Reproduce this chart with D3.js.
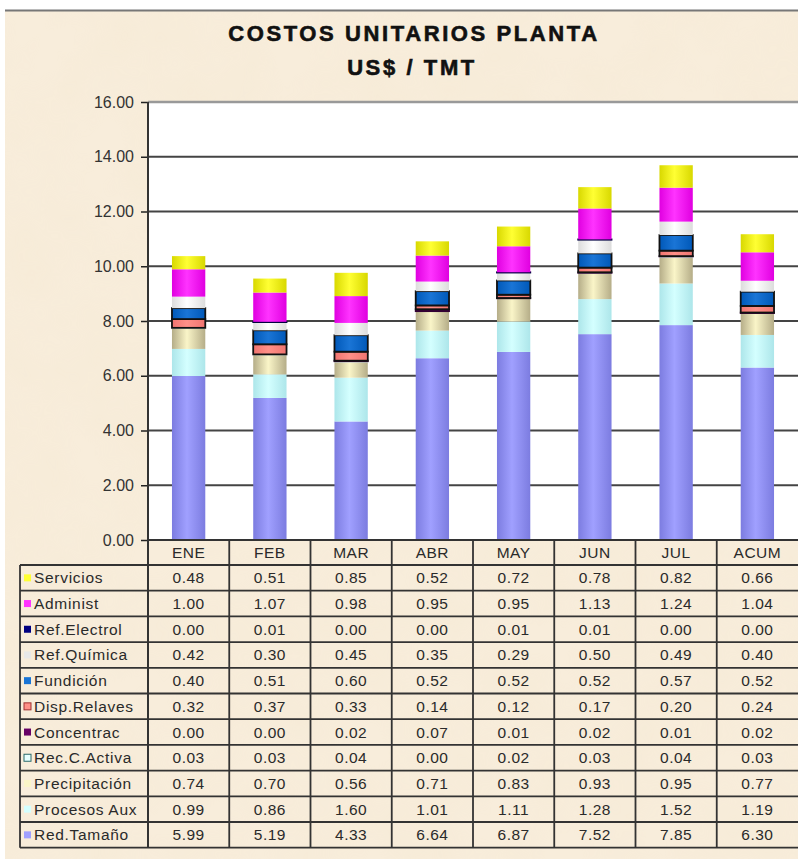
<!DOCTYPE html>
<html>
<head>
<meta charset="utf-8">
<script src="https://cdn.jsdelivr.net/npm/d3@7"></script>
<style>
  body { margin: 0; background: white; }
  svg text { font-family: Arial, "Liberation Sans", sans-serif; }
</style>
</head>
<body>
<svg id="chart" width="798" height="859"></svg>
<script>
// categorias y series (orden de la tabla, de arriba hacia abajo)
const categories = ["ENE", "FEB", "MAR", "ABR", "MAY", "JUN", "JUL", "ACUM"];
const seriesNames = ["Servicios", "Administ", "Ref.Electrol", "Ref.Química", "Fundición", "Disp.Relaves",
                     "Concentrac", "Rec.C.Activa", "Precipitación", "Procesos Aux", "Red.Tamaño"];
const servicios     = [0.48, 0.51, 0.85, 0.52, 0.72, 0.78, 0.82, 0.66];
const administ      = [1.00, 1.07, 0.98, 0.95, 0.95, 1.13, 1.24, 1.04];
const refElectrol   = [0.00, 0.01, 0.00, 0.00, 0.01, 0.01, 0.00, 0.00];
const refQuimica    = [0.42, 0.30, 0.45, 0.35, 0.29, 0.50, 0.49, 0.40];
const fundicion     = [0.40, 0.51, 0.60, 0.52, 0.52, 0.52, 0.57, 0.52];
const dispRelaves   = [0.32, 0.37, 0.33, 0.14, 0.12, 0.17, 0.20, 0.24];
const concentrac    = [0.00, 0.00, 0.02, 0.07, 0.01, 0.02, 0.01, 0.02];
const recCActiva    = [0.03, 0.03, 0.04, 0.00, 0.02, 0.03, 0.04, 0.03];
const precipitacion = [0.74, 0.70, 0.56, 0.71, 0.83, 0.93, 0.95, 0.77];
const procesosAux   = [0.99, 0.86, 1.60, 1.01, 1.11, 1.28, 1.52, 1.19];
const redTamano     = [5.99, 5.19, 4.33, 6.64, 6.87, 7.52, 7.85, 6.30];
const yTicks = [0, 2, 4, 6, 8, 10, 12, 14, 16];

const seriesValues = [servicios, administ, refElectrol, refQuimica, fundicion, dispRelaves,
                      concentrac, recCActiva, precipitacion, procesosAux, redTamano];

// estilos: centro, borde, trazo
const styles = {
    "Servicios":     {c: "#ffff33", e: "#d8d800", s: null},
    "Administ":      {c: "#ff33ff", e: "#e000e0", s: null},
    "Ref.Electrol":  {c: "#000080", e: "#000060", s: "#000040"},
    "Ref.Química":   {c: "#ffffff", e: "#dcdcdc", s: null},
    "Fundición":     {c: "#1a75d6", e: "#0058b8", s: "#111"},
    "Disp.Relaves":  {c: "#ff9088", e: "#f07470", s: "#111"},
    "Concentrac":    {c: "#660066", e: "#440044", s: "#330033"},
    "Rec.C.Activa":  {c: "#e6ffff", e: "#b0dede", s: null},
    "Precipitación": {c: "#faf5c8", e: "#b5ad88", s: null},
    "Procesos Aux":  {c: "#d4ffff", e: "#ade6ea", s: null},
    "Red.Tamaño":    {c: "#a0a0ff", e: "#7c7ce0", s: null}
};

const rows = categories.map((cat, i) => {
    const r = {cat: cat};
    seriesNames.forEach((n, k) => r[n] = seriesValues[k][i]);
    return r;
});

const svg = d3.select("svg#chart");
const W = 798, H = 859;
const plotL = 148, plotR = 798, plotT = 102, plotB = 540;
const tableLeft = 20, rowH = 25.7, headH = 25;

// fondo pergamino
const defs = svg.append("defs");
const filt = defs.append("filter").attr("id", "paper").attr("x", 0).attr("y", 0).attr("width", 1).attr("height", 1);
filt.append("feTurbulence").attr("type", "fractalNoise").attr("baseFrequency", 0.015).attr("numOctaves", 3).attr("seed", 4);
filt.append("feColorMatrix").attr("values", "0 0 0 0 0.85  0 0 0 0 0.75  0 0 0 0 0.55  0 0 0 0.5 -0.15");

svg.append("rect").attr("x", 5).attr("y", 11).attr("width", W - 5).attr("height", H - 11).attr("fill", "#f8eddb");
svg.append("rect").attr("x", 5).attr("y", 11).attr("width", W - 5).attr("height", H - 11)
    .attr("filter", "url(#paper)").attr("opacity", 0.5);
svg.append("line").attr("x1", 5).attr("x2", W).attr("y1", 10.5).attr("y2", 10.5)
    .attr("stroke", "#777").attr("stroke-width", 2);

// titulo
svg.append("text").text("COSTOS UNITARIOS PLANTA")
    .attr("x", 414).attr("y", 41).attr("text-anchor", "middle")
    .attr("font-size", 22).attr("font-weight", "bold").attr("letter-spacing", 2.6)
    .attr("fill", "#111").attr("stroke", "#111").attr("stroke-width", 0.6);
svg.append("text").text("US$ / TMT")
    .attr("x", 412).attr("y", 75).attr("text-anchor", "middle")
    .attr("font-size", 22).attr("font-weight", "bold").attr("letter-spacing", 2.6)
    .attr("fill", "#111").attr("stroke", "#111").attr("stroke-width", 0.6);

// escalas
const x = d3.scaleBand().domain(categories).range([plotL, plotR]).padding(0);
const y = d3.scaleLinear().domain([0, 16]).range([plotB, plotT]);
const barW = x.bandwidth() * 0.41;

// area de trazado
svg.append("rect").attr("x", plotL).attr("y", plotT).attr("width", plotR - plotL).attr("height", plotB - plotT).attr("fill", "white");

// lineas de cuadricula
svg.append("g").selectAll("line").data(yTicks.filter(t => t > 0)).join("line")
    .attr("x1", plotL).attr("x2", plotR)
    .attr("y1", d => y(d)).attr("y2", d => y(d))
    .attr("stroke", d => d === 16 ? "#999" : "#444")
    .attr("stroke-width", d => d === 16 ? 2.5 : 1.8);

// degradados (efecto cilindro)
seriesNames.forEach((n, k) => {
    const g = defs.append("linearGradient").attr("id", "grad" + k).attr("x1", "0%").attr("x2", "100%");
    g.append("stop").attr("offset", "0%").attr("stop-color", styles[n].e);
    g.append("stop").attr("offset", "45%").attr("stop-color", styles[n].c);
    g.append("stop").attr("offset", "100%").attr("stop-color", styles[n].e);
});

// barras apiladas
const stackKeys = seriesNames.slice().reverse();
const stacked = d3.stack().keys(stackKeys)(rows);
svg.append("g").selectAll("g").data(stacked).join("g")
    .attr("fill", d => "url(#grad" + seriesNames.indexOf(d.key) + ")")
    .each(function(layer) {
        const st = styles[layer.key];
        d3.select(this).selectAll("rect").data(layer.filter(d => d[1] - d[0] > 0)).join("rect")
            .attr("x", d => x(d.data.cat) + (x.bandwidth() - barW) / 2)
            .attr("width", barW)
            .attr("y", d => y(d[1]))
            .attr("height", d => y(d[0]) - y(d[1]))
            .attr("stroke", st.s ? st.s : "none")
            .attr("stroke-width", st.s ? 1.8 : 0);
    });

// eje Y
const yAxis = svg.append("g").attr("transform", `translate(${plotL},0)`)
    .call(d3.axisLeft(y).tickValues(yTicks).tickFormat(d3.format(".2f")).tickSize(7).tickPadding(6));
yAxis.select(".domain").remove();
yAxis.selectAll(".tick line").attr("stroke", "#222").attr("stroke-width", 1.5);
yAxis.selectAll(".tick text").attr("font-size", 16).attr("fill", "#333")
    .attr("font-family", "Arial, 'Liberation Sans', sans-serif").attr("dx", -1);

// tabla de datos
const tableTop = plotB + headH;
const tableBottom = tableTop + rowH * seriesNames.length;
const tbl = svg.append("g").attr("stroke", "#333").attr("stroke-width", 1.8);

// linea base y lineas horizontales
tbl.append("line").attr("x1", plotL).attr("x2", plotR).attr("y1", plotB).attr("y2", plotB).attr("stroke-width", 2);
tbl.selectAll("line.hrow").data(d3.range(seriesNames.length + 1)).join("line").attr("class", "hrow")
    .attr("x1", tableLeft).attr("x2", plotR)
    .attr("y1", i => tableTop + i * rowH).attr("y2", i => tableTop + i * rowH);
// lineas verticales
tbl.append("line").attr("x1", plotL).attr("x2", plotL).attr("y1", plotT).attr("y2", tableBottom).attr("stroke-width", 2);
tbl.append("line").attr("x1", tableLeft).attr("x2", tableLeft).attr("y1", tableTop).attr("y2", tableBottom);
tbl.selectAll("line.vcol").data(categories.slice(1)).join("line").attr("class", "vcol")
    .attr("x1", d => x(d)).attr("x2", d => x(d))
    .attr("y1", plotB).attr("y2", tableBottom);

// encabezados
svg.append("g").selectAll("text").data(categories).join("text")
    .text(d => d)
    .attr("x", d => x(d) + x.bandwidth() / 2)
    .attr("y", plotB + headH / 2 + 5.5)
    .attr("text-anchor", "middle").attr("font-size", 15.5).attr("letter-spacing", 0.5).attr("fill", "#2a2a2a");

// filas: leyenda + valores
const rowG = svg.append("g").selectAll("g").data(seriesNames).join("g")
    .attr("transform", (d, i) => `translate(0,${tableTop + i * rowH})`);
rowG.append("rect")
    .attr("x", 24).attr("y", rowH / 2 - 3.5).attr("width", 7).attr("height", 7)
    .attr("fill", d => styles[d].c === "#ffffff" ? "#e8e8e8" : styles[d].c)
    .attr("stroke", d => d === "Rec.C.Activa" ? "#2a6a6a" : (d === "Disp.Relaves" ? "#a03030" : "none"))
    .attr("stroke-width", 1);
rowG.append("text").text(d => d)
    .attr("x", 34).attr("y", rowH / 2 + 5.5)
    .attr("font-size", 15.5).attr("letter-spacing", 0.7).attr("fill", "#2a2a2a");
rowG.each(function(name, k) {
    d3.select(this).selectAll("text.val").data(seriesValues[k]).join("text").attr("class", "val")
        .text(v => v.toFixed(2))
        .attr("x", (v, i) => x(categories[i]) + x.bandwidth() / 2)
        .attr("y", rowH / 2 + 5.5)
        .attr("text-anchor", "middle").attr("font-size", 15.5).attr("letter-spacing", 0.5).attr("fill", "#2a2a2a");
});
</script>
</body>
</html>
